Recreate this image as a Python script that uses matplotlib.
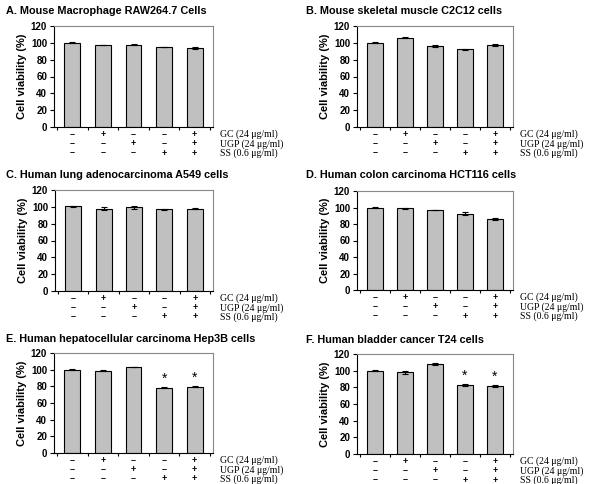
import matplotlib.pyplot as plt
import matplotlib.transforms as mtransforms

titles = [
    "A. Mouse Macrophage RAW264.7 Cells",
    "B. Mouse skeletal muscle C2C12 cells",
    "C. Human lung adenocarcinoma A549 cells",
    "D. Human colon carcinoma HCT116 cells",
    "E. Human hepatocellular carcinoma Hep3B cells",
    "F. Human bladder cancer T24 cells",
]
viability = [
    [100, 97.5, 98, 95, 94],
    [100, 106, 96.5, 92.5, 97.5],
    [100.5, 98, 99.5, 97, 98],
    [100, 99, 97, 92.5, 86],
    [100, 99, 103, 78.5, 79.5],
    [100, 98, 108, 82.5, 81.5],
]
errors = [
    [0.5, 0.5, 1.0, 0.5, 1.5],
    [0.5, 0.5, 1.5, 0.5, 1.5],
    [0.8, 2.0, 1.5, 0.3, 1.0],
    [0.8, 1.0, 0.5, 1.5, 0.8],
    [0.5, 0.8, 0.3, 0.8, 0.5],
    [0.3, 1.5, 1.0, 1.0, 0.8],
]
stars = [[], [], [], [], [3, 4], [3, 4]]
treatments = ["GC (24 \u03bcg/ml)", "UGP (24 \u03bcg/ml)", "SS (0.6 \u03bcg/ml)"]
signs = [
    ["\u2013", "+", "\u2013", "\u2013", "+"],
    ["\u2013", "\u2013", "+", "\u2013", "+"],
    ["\u2013", "\u2013", "\u2013", "+", "+"],
]

W, H = 597, 484
fig = plt.figure(figsize=(W / 100, H / 100), dpi=100)

# pixel boxes: left, top, right, bottom
boxes = [
    (54, 26, 213, 127), (357, 26, 513, 127),
    (55, 190, 213, 291), (357, 191, 513, 290),
    (54, 353, 213, 453), (357, 354, 513, 454),
]
title_pos = [(6, 11), (306, 11), (6, 175), (306, 175), (6, 339), (306, 340)]
row_off = [7.5, 16.8, 26]  # pixels below the x axis

sans = "Liberation Sans"
serif = "Liberation Serif"

for i in range(6):
    l, t, r, b = boxes[i]
    ax = fig.add_axes([l / W, 1 - b / H, (r - l) / W, (b - t) / H])
    x = list(range(len(viability[i])))
    ax.bar(x, viability[i], width=0.52, color="#c0c0c0", edgecolor="black",
           linewidth=0.8, yerr=errors[i], capsize=2,
           error_kw=dict(elinewidth=0.8, capthick=0.8, ecolor="black"))
    for j in stars[i]:
        ax.text(j, viability[i][j] + errors[i][j] + 1.5, "*", ha="center",
                va="bottom", fontsize=10, family=sans)
    ax.set_ylim(0, 120)
    ax.set_xlim(-0.6, 4.6)
    ax.set_yticks(range(0, 121, 20))
    ax.set_xticks([k + 0.5 for k in range(-1, 5)])
    ax.set_xticklabels([])
    ax.tick_params(axis="x", length=2.5, width=0.8, direction="out")
    ax.tick_params(axis="y", length=3, width=0.8, direction="out",
                   labelsize=7, pad=2)
    for lab in ax.get_yticklabels():
        lab.set_fontweight("bold")
        lab.set_family(sans)
    ax.spines["top"].set_color("#888888")
    ax.spines["right"].set_color("#888888")
    for s in ax.spines.values():
        s.set_linewidth(0.8)
    ax.set_ylabel("Cell viability (%)", fontsize=8, fontweight="bold",
                  family=sans, labelpad=3)
    fig.text(title_pos[i][0] / W, 1 - title_pos[i][1] / H, titles[i],
             fontsize=7.8, fontweight="bold", family=sans, va="center")

    for row in range(3):
        shift = mtransforms.ScaledTranslation(0, -row_off[row] / 100,
                                              fig.dpi_scale_trans)
        trans = mtransforms.blended_transform_factory(ax.transData, ax.transAxes) + shift
        for j, s in enumerate(signs[row]):
            ax.text(j, 0, s, transform=trans, ha="center", va="center",
                    fontsize=6.5, fontweight="bold", family=sans)
        ax.text(1.045, 0, treatments[row], transform=ax.transAxes + shift,
                ha="left", va="center", fontsize=7, family=serif)

fig.savefig("out.png", dpi=100)
